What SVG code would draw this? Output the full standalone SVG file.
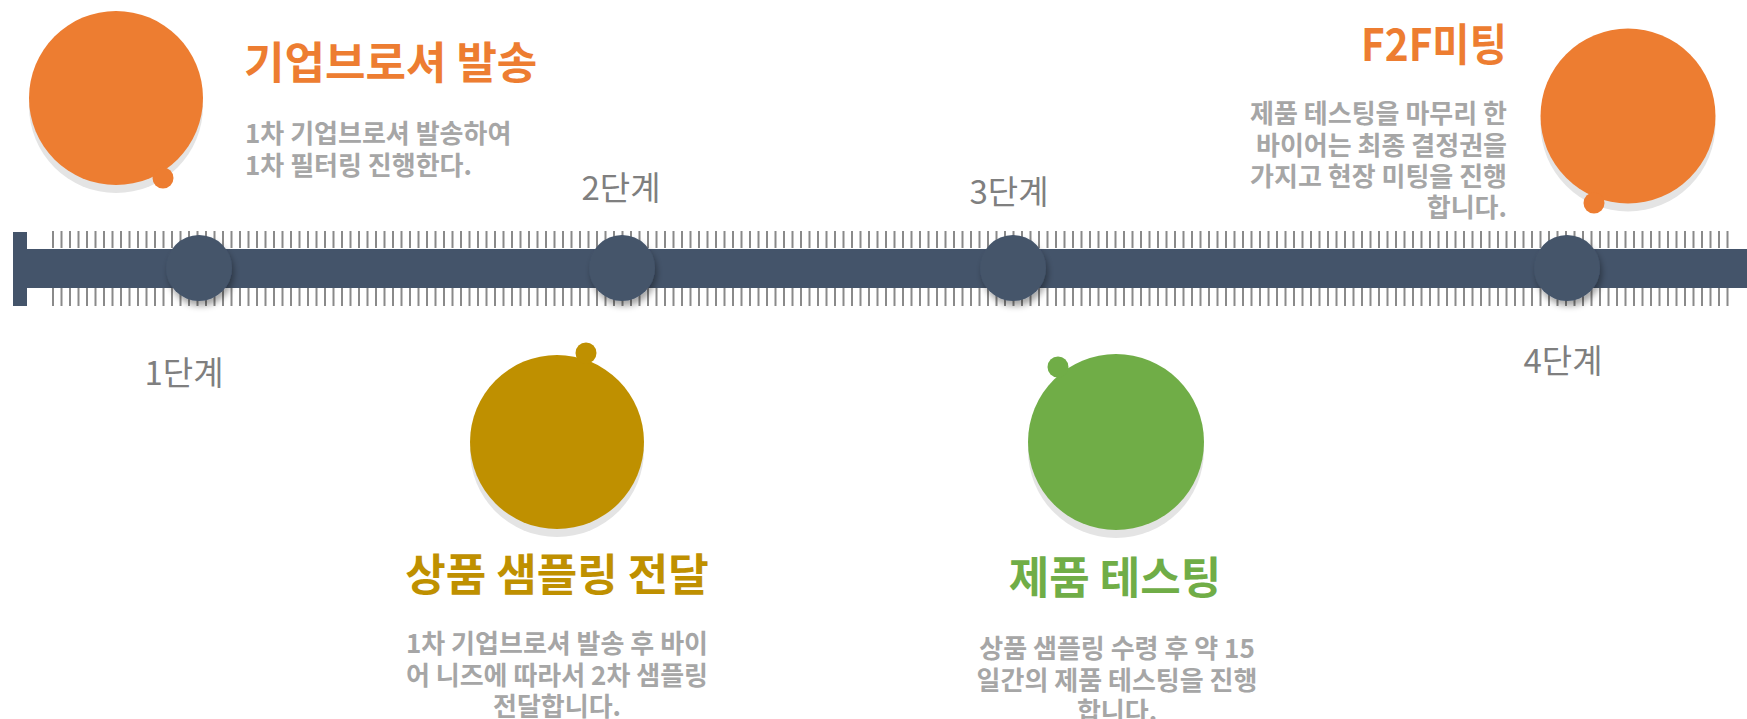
<svg xmlns="http://www.w3.org/2000/svg" width="1747" height="719" viewBox="0 0 1747 719">
<style>
.title{font-family:"Noto Sans CJK KR","Noto Sans",sans-serif;font-weight:700;font-size:44px}
.body{font-family:"Noto Sans CJK KR","Noto Sans",sans-serif;font-weight:700;font-size:26px;fill:#a6a6a6}
.step{font-family:"Noto Sans CJK KR","Noto Sans",sans-serif;font-weight:400;font-size:33px;fill:#7f7f7f;text-anchor:middle}
.shadow{fill:#e4e4e4}
.marker{fill:#44546A;filter:url(#ds)}
.orange{fill:#ED7D31}
.gold{fill:#BF9000}
.green{fill:#70AD47}
</style>
<defs>
<filter id="ds" x="-50%" y="-50%" width="200%" height="200%">
<feDropShadow dx="2" dy="5" stdDeviation="3" flood-color="#000" flood-opacity="0.35"/>
</filter>
</defs>
<rect width="1747" height="719" fill="#fff"/>
<g id="connectors">
<line x1="52" y1="239.5" x2="1730" y2="239.5" stroke="#8a8a8a" stroke-width="17" stroke-dasharray="2 6.5"/>
<line x1="52" y1="297" x2="1730" y2="297" stroke="#8a8a8a" stroke-width="18" stroke-dasharray="2 6.5"/>
<rect x="13" y="232" width="14" height="74" fill="#44546A"/>
<rect x="13" y="249" width="1734" height="39" fill="#44546A"/>
</g>
<g id="step1">
<circle class="marker" cx="199" cy="268" r="33"/>
<text class="step" x="184" y="385">1단계</text>
</g>
<g id="step2">
<circle class="marker" cx="622" cy="268" r="33"/>
<text class="step" x="621" y="200">2단계</text>
</g>
<g id="step3">
<circle class="marker" cx="1013" cy="268" r="33"/>
<text class="step" x="1009" y="204">3단계</text>
</g>
<g id="step4">
<circle class="marker" cx="1567" cy="268" r="33"/>
<text class="step" x="1563" y="373">4단계</text>
</g>
<g id="node-brochure">
<circle class="shadow" cx="116" cy="106" r="87"/>
<circle class="orange" cx="116" cy="98" r="87"/>
<circle class="orange" cx="163" cy="178" r="10.5"/>
<text class="title orange" x="244" y="79">기업브로셔 발송</text>
<text class="body" x="245" y="143">1차 기업브로셔 발송하여</text>
<text class="body" x="245" y="175">1차 필터링 진행한다.</text>
</g>
<g id="node-sampling">
<circle class="shadow" cx="557" cy="450" r="87"/>
<circle class="gold" cx="557" cy="442" r="87"/>
<circle class="gold" cx="586" cy="353" r="10.5"/>
<text class="title gold" x="557" y="591" text-anchor="middle">상품 샘플링 전달</text>
<text class="body" x="557" y="653" text-anchor="middle">1차 기업브로셔 발송 후 바이</text>
<text class="body" x="557" y="685" text-anchor="middle">어 니즈에 따라서 2차 샘플링</text>
<text class="body" x="557" y="716" text-anchor="middle">전달합니다.</text>
</g>
<g id="node-testing">
<circle class="shadow" cx="1116" cy="450" r="88"/>
<circle class="green" cx="1116" cy="442" r="88"/>
<circle class="green" cx="1058" cy="367" r="10.5"/>
<text class="title green" x="1115" y="594" text-anchor="middle">제품 테스팅</text>
<text class="body" x="1117" y="658" text-anchor="middle">상품 샘플링 수령 후 약 15</text>
<text class="body" x="1117" y="690" text-anchor="middle">일간의 제품 테스팅을 진행</text>
<text class="body" x="1117" y="721" text-anchor="middle">합니다.</text>
</g>
<g id="node-meeting">
<circle class="shadow" cx="1628" cy="124" r="87.5"/>
<circle class="orange" cx="1628" cy="116" r="87.5"/>
<circle class="orange" cx="1594" cy="203" r="10.5"/>
<text class="title orange" x="1507" y="61" text-anchor="end" textLength="146" lengthAdjust="spacingAndGlyphs">F2F미팅</text>
<text class="body" x="1507" y="123" text-anchor="end">제품 테스팅을 마무리 한</text>
<text class="body" x="1507" y="155" text-anchor="end">바이어는 최종 결정권을</text>
<text class="body" x="1507" y="186" text-anchor="end">가지고 현장 미팅을 진행</text>
<text class="body" x="1507" y="217" text-anchor="end">합니다.</text>
</g>
</svg>
